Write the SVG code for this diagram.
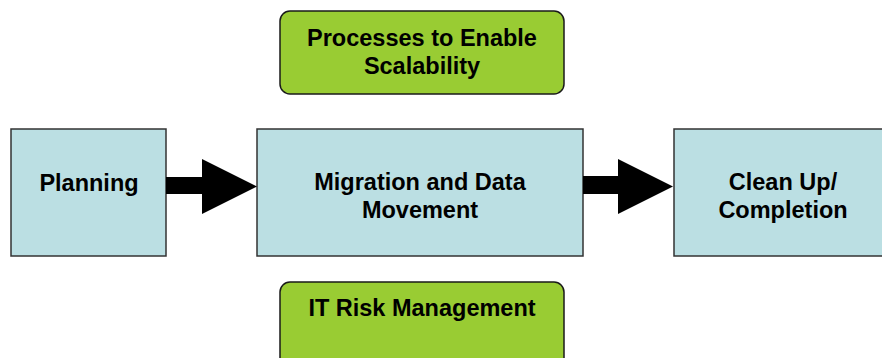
<svg xmlns="http://www.w3.org/2000/svg" width="882" height="358" viewBox="0 0 882 358">
<style>
.g{fill:#99CC33;stroke:#1a1a1a;stroke-width:1.5}
.b{fill:#BBDFE3;stroke:#333333;stroke-width:1.5}
text{font-family:"Liberation Sans",Arial,sans-serif;font-weight:bold;font-size:23.5px;fill:#000;text-anchor:middle}
.arr{fill:#000}
</style>
<rect width="882" height="358" fill="#fff"/>
<g id="scalability">
<rect class="g" x="280" y="11" width="284" height="83" rx="10"/>
<text x="422" y="46">Processes to Enable</text>
<text x="422" y="74">Scalability</text>
</g>
<g id="planning">
<rect class="b" x="11" y="129" width="155" height="127"/>
<text x="89" y="191">Planning</text>
</g>
<g id="migration">
<rect class="b" x="257" y="129" width="326" height="127"/>
<text x="420" y="190">Migration and Data</text>
<text x="420" y="218">Movement</text>
</g>
<g id="cleanup">
<rect class="b" x="674" y="129" width="220" height="127"/>
<text x="783" y="190">Clean Up/</text>
<text x="783" y="218">Completion</text>
</g>
<g id="risk">
<rect class="g" x="280" y="282" width="284" height="90" rx="10"/>
<text x="422" y="316">IT Risk Management</text>
</g>
<g id="connectors">
<polygon class="arr" points="166,177 202,177 202,159 257,186.5 202,214 202,194 166,194"/>
<polygon class="arr" points="583,176 618,176 618,159 673,186.5 618,214 618,194 583,194"/>
</g>
</svg>
